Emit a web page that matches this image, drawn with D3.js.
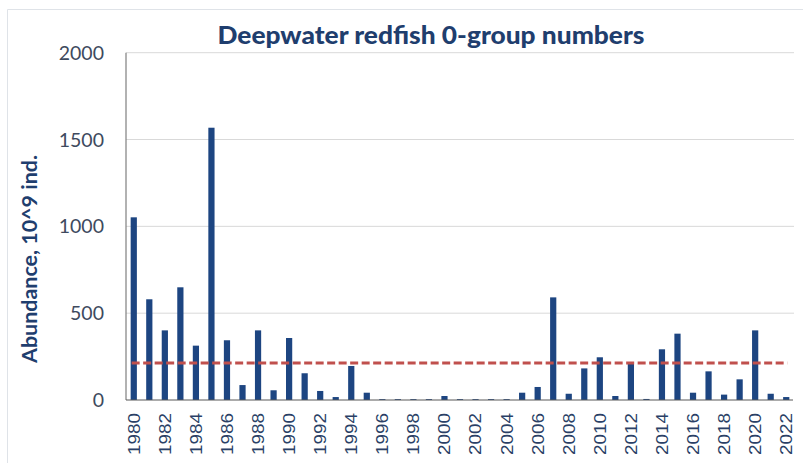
<!DOCTYPE html>
<html>
<head>
<meta charset="utf-8">
<script src="https://cdn.jsdelivr.net/npm/d3@7"></script>
<style>
  html, body { margin: 0; padding: 0; background: #fff; }
  svg { display: block; }
</style>
</head>
<body>
<svg id="chart" width="803" height="463"></svg>
<script>
const years = d3.range(1980, 2023);
const values = [1052, 580, 401, 649, 313, 1568, 344, 86, 401, 56,
                357, 154, 52, 17, 196, 42, 5, 5, 5, 5,
                23, 5, 5, 5, 5, 42, 75, 591, 36, 182,
                246, 23, 215, 6, 292, 382, 42, 165, 31, 119,
                401, 36, 17];
const meanValue = 213;
const yTicks = [0, 500, 1000, 1500, 2000];
const xTickYears = years.filter(y => y % 2 === 0);

const svg = d3.select("#chart");
const plotLeft = 126, plotRight = 794, plotTop = 52.7, plotBottom = 400;

// faint frame
svg.append("path")
  .attr("d", `M7.5,463 L7.5,9.5 L803,9.5`)
  .attr("fill", "none").attr("stroke", "#dfe3e8").attr("stroke-width", 1);

const x = d3.scaleBand().domain(years).range([plotLeft, plotRight])
  .paddingInner(0.6).paddingOuter(0.3);
const y = d3.scaleLinear().domain([0, 2000]).range([plotBottom, plotTop]);

// gridlines
svg.append("g").selectAll("line").data(yTicks.filter(d => d > 0)).join("line")
  .attr("x1", plotLeft).attr("x2", plotRight)
  .attr("y1", d => y(d)).attr("y2", d => y(d))
  .attr("stroke", "#d9d9d9").attr("stroke-width", 1);

// y tick labels
svg.append("g").selectAll("text").data(yTicks).join("text")
  .attr("x", 104).attr("y", d => y(d))
  .attr("dy", "0.36em")
  .attr("text-anchor", "end")
  .attr("font-family", "Lato, 'Open Sans', sans-serif")
  .attr("font-size", 19.5)
  .attr("fill", "#3e4a5e")
  .text(d => d);

// bars
svg.append("g").selectAll("rect").data(values).join("rect")
  .attr("x", (d, i) => x(years[i]))
  .attr("width", x.bandwidth())
  .attr("y", d => y(d))
  .attr("height", d => y(0) - y(d))
  .attr("fill", "#1d4581");

// axes lines
svg.append("line").attr("x1", plotLeft).attr("x2", plotLeft).attr("y1", plotTop).attr("y2", plotBottom)
  .attr("stroke", "#7f7f7f").attr("stroke-width", 1.2);
svg.append("line").attr("x1", plotLeft).attr("x2", plotRight - 1).attr("y1", plotBottom).attr("y2", plotBottom)
  .attr("stroke", "#595959").attr("stroke-width", 1.2);

// mean dashed line
svg.append("line")
  .attr("x1", x(years[0]) + 1).attr("x2", x(years[years.length - 1]) + x.bandwidth() - 2)
  .attr("y1", y(meanValue)).attr("y2", y(meanValue))
  .attr("stroke", "#c0504d").attr("stroke-width", 3)
  .attr("stroke-dasharray", "8,3.5");

// x tick labels
svg.append("g").selectAll("text").data(xTickYears).join("text")
  .attr("transform", d => `translate(${x(d) + x.bandwidth() / 2},413) rotate(-90)`)
  .attr("dy", "0.36em")
  .attr("text-anchor", "end")
  .attr("font-family", "'Liberation Sans', Arial, sans-serif")
  .attr("font-size", 16.5)
  .attr("fill", "#2a3f66")
  .attr("textLength", 42).attr("lengthAdjust", "spacingAndGlyphs")
  .text(d => d);

// title
svg.append("text")
  .attr("x", 431).attr("y", 44)
  .attr("text-anchor", "middle")
  .attr("font-family", "Lato, 'Open Sans', sans-serif")
  .attr("font-weight", "900")
  .attr("font-size", 25)
  .attr("fill", "#1f3e6e")
  .attr("textLength", 427).attr("lengthAdjust", "spacingAndGlyphs")
  .text("Deepwater redfish 0-group numbers");

// y axis title
svg.append("text")
  .attr("transform", "translate(37,259) rotate(-90)")
  .attr("text-anchor", "middle")
  .attr("font-family", "Lato, 'Open Sans', sans-serif")
  .attr("font-weight", "bold")
  .attr("font-size", 20)
  .attr("fill", "#1f3e6e")
  .attr("textLength", 208).attr("lengthAdjust", "spacingAndGlyphs")
  .text("Abundance, 10^9 ind.");
</script>
</body>
</html>
